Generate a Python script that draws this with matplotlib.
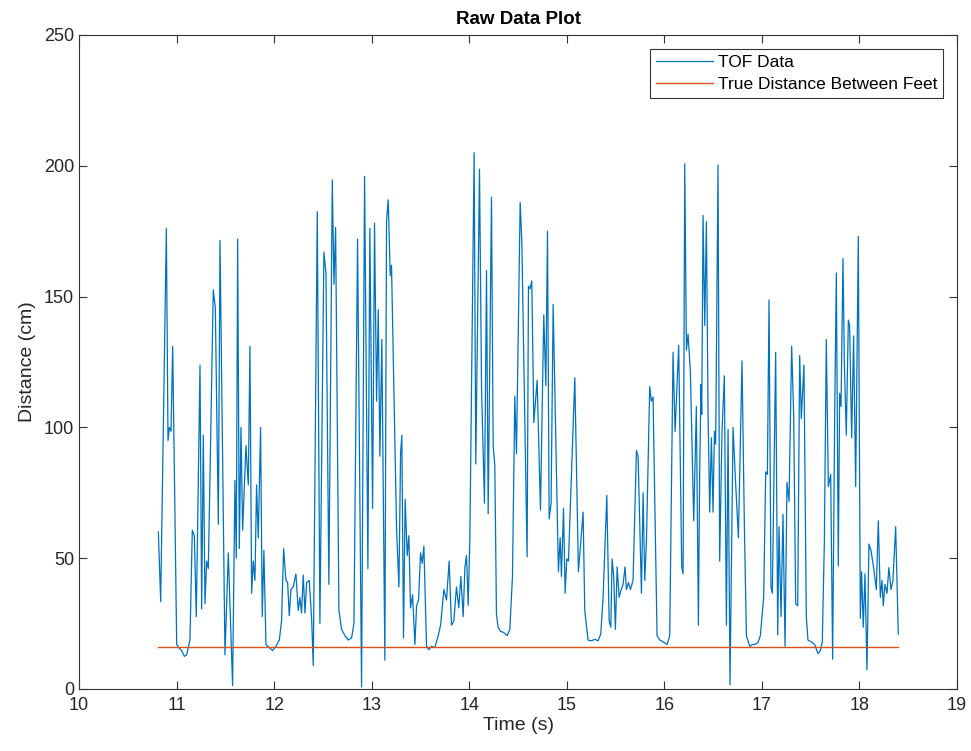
import matplotlib
matplotlib.use("Agg")
import matplotlib.pyplot as plt

plt.rcParams["font.family"] = ["Liberation Sans", "DejaVu Sans"]

# Time stamps (s) and TOF readings (cm)
time_s = [
    10.813, 10.837, 10.895, 10.912, 10.926, 10.943, 10.960, 11.001, 11.028, 11.052,
    11.079, 11.103, 11.137, 11.161, 11.182, 11.202, 11.240, 11.257, 11.274, 11.291,
    11.308, 11.325, 11.342, 11.376, 11.397, 11.428, 11.445, 11.496, 11.530, 11.574,
    11.598, 11.612, 11.626, 11.643, 11.660, 11.677, 11.711, 11.735,
    11.752, 11.769, 11.786, 11.803, 11.820, 11.837, 11.861, 11.878, 11.895, 11.916,
    11.950, 11.984, 12.018, 12.053, 12.076, 12.097, 12.121, 12.138, 12.155, 12.172,
    12.196, 12.223, 12.247, 12.264, 12.281, 12.298, 12.316, 12.333, 12.360, 12.384,
    12.401, 12.442, 12.469, 12.510, 12.531, 12.561, 12.596, 12.613, 12.630, 12.664,
    12.691, 12.725, 12.760, 12.794, 12.818, 12.855,
    12.896, 12.927, 12.961, 12.981, 13.009, 13.029, 13.050, 13.067, 13.084, 13.104,
    13.135, 13.152, 13.169, 13.190, 13.203, 13.255, 13.279, 13.296, 13.309, 13.326,
    13.343, 13.364, 13.381, 13.398, 13.419, 13.443, 13.460, 13.480, 13.501, 13.518,
    13.535, 13.562, 13.586, 13.613, 13.647, 13.682, 13.706, 13.740, 13.767, 13.794,
    13.818, 13.842, 13.869, 13.893, 13.914, 13.938, 13.955, 13.972, 13.989, 14.006,
    14.050, 14.067, 14.105, 14.126, 14.156, 14.177, 14.194, 14.228, 14.245, 14.262,
    14.279, 14.296, 14.320, 14.348, 14.389, 14.416, 14.443, 14.467, 14.484, 14.522,
    14.539, 14.593, 14.607, 14.624, 14.641, 14.662, 14.696, 14.730, 14.764, 14.785,
    14.802, 14.819, 14.839, 14.860, 14.914, 14.932, 14.945, 14.966, 14.983, 15.000,
    15.017, 15.082, 15.119,
    15.167, 15.184, 15.218, 15.253, 15.287, 15.321, 15.348, 15.372, 15.410, 15.434,
    15.451, 15.464, 15.481, 15.498, 15.516, 15.536, 15.557, 15.577, 15.597, 15.611,
    15.632, 15.652, 15.679, 15.714, 15.731, 15.765, 15.782, 15.799, 15.816, 15.850,
    15.867, 15.884, 15.925, 15.953, 15.987, 16.028, 16.055, 16.089, 16.110, 16.147,
    16.178, 16.192, 16.209, 16.226, 16.243, 16.267,
    16.301, 16.328, 16.349, 16.362, 16.376, 16.383, 16.397, 16.414, 16.431, 16.448,
    16.465, 16.482, 16.499, 16.513, 16.526, 16.550, 16.567, 16.591, 16.615, 16.636,
    16.653, 16.673, 16.704, 16.728, 16.759, 16.796, 16.820, 16.841, 16.875, 16.902,
    16.926, 16.960, 16.984, 17.018, 17.039, 17.056, 17.073, 17.093, 17.107, 17.141,
    17.162, 17.175, 17.196, 17.216, 17.237, 17.257, 17.278, 17.305, 17.326, 17.346,
    17.367, 17.387,
    17.404, 17.431, 17.455, 17.472, 17.507, 17.541, 17.575, 17.599, 17.619, 17.640,
    17.660, 17.681, 17.705, 17.725, 17.746, 17.763, 17.783, 17.797, 17.811, 17.831,
    17.845, 17.865, 17.886, 17.899, 17.920, 17.940, 17.961, 17.988, 18.009, 18.022,
    18.039, 18.056, 18.077, 18.097, 18.118, 18.145, 18.173, 18.193, 18.214, 18.231,
    18.244, 18.261, 18.282, 18.302, 18.323, 18.343, 18.371, 18.398,
]

tof_cm = [
    60, 33.4, 176, 95, 100, 98.5, 131, 17, 15.5, 14.7,
    12.5, 13, 18.7, 60.7, 58.6, 27.7, 123.8, 30.6, 97, 32.6,
    48.9, 46, 80.6, 152.6, 145.8, 63, 171.5, 13, 52, 1.3,
    79.8, 50, 172, 53.7, 100, 60.7, 93, 78,
    131, 36.6, 48.9, 41.5, 78, 57.8, 100, 27.7, 53, 17,
    15.8, 14.7, 16.3, 18.7, 26, 53.7, 41.5, 40.7, 28, 38,
    39, 44, 30, 35, 29, 43.5, 29, 40.7, 41.5, 27,
    9, 182.4, 25, 167, 159, 40, 194.6, 154.7, 176.4, 30,
    22.8, 20.4, 18.7, 19.5, 25, 172,
    0.8, 196, 46, 176, 69, 178, 110, 145, 89, 133.6,
    11, 179, 187, 158, 162, 61, 39, 90, 97, 19.5,
    72.5, 51, 58.6, 31, 36, 17, 31.8, 34, 52, 48,
    54.6, 16.3, 15, 16.3, 15.8, 20.4, 24.4, 38, 34, 48.9,
    24.4, 26, 39, 31, 43, 27.7, 46.4, 51, 32, 57,
    205, 86, 198.7, 115, 71, 160, 67, 188, 93, 85.5,
    28.5, 23.6, 22, 21.7, 20.4, 22.8, 43, 112, 90, 186,
    171, 50.5, 154, 153, 156, 101.8, 118, 68.4, 143, 116,
    175, 65, 71, 147, 44.8, 57.8, 43, 69, 36.6, 49.7,
    48.9, 119, 44.8,
    67.6, 30, 18.7, 18.4, 19, 18.4, 21, 35, 74, 26,
    23.6, 49.7, 43, 22.8, 46.7, 35, 38, 40, 46.7, 38,
    40.7, 38, 41.5, 91.2, 88.8, 36.6, 75, 41.5, 56, 115.6,
    110, 111.6, 20.4, 18.7, 18, 17, 20.4, 128.7, 98.5, 131.4,
    46.7, 44, 200.8, 129.5, 135.7, 121,
    64.3, 108, 24.4, 83, 116.4, 105, 181, 139, 178.6, 105,
    67.6, 96, 67.6, 98.5, 93.6, 200.3, 48.9, 98.5, 119.7, 24.4,
    99.3, 1.6, 100, 80.6, 57.8, 125.4, 62.7, 20.4, 16.3, 17,
    17, 17.8, 20.4, 35, 83, 82, 148.7, 39, 36.6, 128.7,
    20.7, 62, 27.7, 66.8, 16.3, 79, 71.7, 131, 104.2, 32.6,
    31.8, 127.5,
    103.4, 123.8, 27.7, 18.7, 18, 17, 13.5, 14.7, 18, 56,
    133.6, 77.4, 82, 11.4, 105, 159, 47, 113, 108, 164.5,
    124.6, 97, 141, 139, 96, 135, 77.4, 173, 27, 44.8,
    23.6, 44, 7.3, 55.4, 53, 46.4, 38, 64.3, 35, 41.5,
    31.8, 40, 36.6, 46.4, 38, 41.5, 62, 21,
]

true_distance_cm = 16

fig = plt.figure(figsize=(9.71, 7.51), dpi=100)
ax = fig.add_axes([0.0814, 0.0826, 0.9042, 0.8708])

ax.plot(time_s, tof_cm, color="#0072BD", lw=0.9, label="TOF Data")
ax.plot([time_s[0], time_s[-1]], [true_distance_cm, true_distance_cm],
        color="#D95319", lw=1.0, label="True Distance Between Feet")

ax.set_xlim(10, 19)
ax.set_ylim(0, 250)
ax.set_xticks(range(10, 20))
ax.set_yticks(range(0, 251, 50))

for s in ax.spines.values():
    s.set_color("#333333")
    s.set_linewidth(0.8)
ax.tick_params(direction="in", top=True, right=True, length=6, width=0.8,
               color="#333333", labelcolor="#262626", labelsize=13)
ax.tick_params(axis="x", pad=6)

ax.set_xlabel("Time (s)", fontsize=14, color="#262626", labelpad=2)
ax.set_ylabel("Distance (cm)", fontsize=14, color="#262626", labelpad=6)
ax.set_title("Raw Data Plot", fontsize=13.5, fontweight="bold", pad=8)

leg = ax.legend(loc="upper right", fontsize=12.5, handlelength=3.3,
                fancybox=False, framealpha=1, borderaxespad=0.8,
                handletextpad=0.25, labelspacing=0.4, borderpad=0.35)
leg.get_frame().set_edgecolor("#333333")
leg.get_frame().set_linewidth(0.8)

fig.savefig("out.png", dpi=100)
